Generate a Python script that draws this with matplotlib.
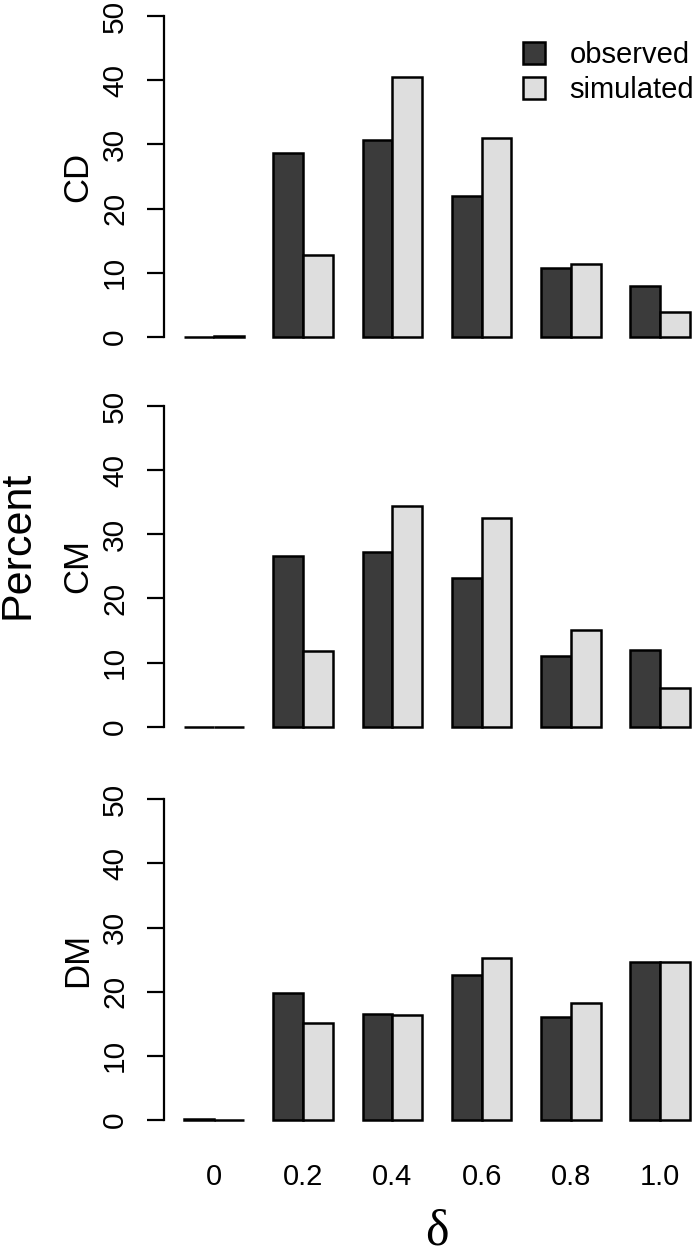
import numpy as np
import matplotlib
matplotlib.use("Agg")
import matplotlib.pyplot as plt
import matplotlib.transforms as mtransforms

# values (percent)
deltas = ["0", "0.2", "0.4", "0.6", "0.8", "1.0"]
panels = ["CD", "CM", "DM"]
cd_observed = [0.0, 28.6, 30.7, 21.9, 10.7, 7.9]
cd_simulated = [0.15, 12.7, 40.5, 31.0, 11.4, 3.9]
cm_observed = [0.0, 26.6, 27.3, 23.2, 11.0, 11.9]
cm_simulated = [0.0, 11.8, 34.4, 32.6, 15.1, 6.1]
dm_observed = [0.1, 19.8, 16.6, 22.6, 16.1, 24.7]
dm_simulated = [0.0, 15.2, 16.4, 25.2, 18.2, 24.6]

observed = [cd_observed, cm_observed, dm_observed]
simulated = [cd_simulated, cm_simulated, dm_simulated]

dark = "#3b3b3b"
light = "#dedede"

plt.rcParams["font.family"] = ["Liberation Sans", "DejaVu Sans"]

W, H = 697, 1256
fig = plt.figure(figsize=(W / 100, H / 100), dpi=100)

# pixel rows of the 0 and 50 gridlines in each panel
zero_px = [337.0, 726.7, 1120.0]
fifty_px = [16.0, 406.0, 799.3]
left_px = 163.8
xlo, xhi = 0.32, 0.32 + (W - left_px) / 29.76

# barplot positions like R: beside=TRUE, space=c(0,1)
grp = np.arange(len(deltas))
x_obs = 1.5 + 3 * grp
x_sim = 2.5 + 3 * grp

for k, name in enumerate(panels):
    ppu = (zero_px[k] - fifty_px[k]) / 50.0
    top = fifty_px[k] - 2 * ppu
    bot = zero_px[k] + 2 * ppu
    ax = fig.add_axes([left_px / W, 1 - bot / H, 1 - left_px / W, (bot - top) / H])
    ax.set_xlim(xlo, xhi)
    ax.set_ylim(-2, 52)

    b1 = ax.bar(x_obs, observed[k], width=1.0, color=dark, edgecolor="black",
                linewidth=1.8, label="observed")
    b2 = ax.bar(x_sim, simulated[k], width=1.0, color=light, edgecolor="black",
                linewidth=1.8, label="simulated")

    for s in ["top", "right", "bottom"]:
        ax.spines[s].set_visible(False)
    ax.spines["left"].set_bounds(0, 50)
    ax.spines["left"].set_linewidth(1.6)
    ax.set_yticks([0, 10, 20, 30, 40, 50])
    ax.tick_params(axis="y", length=12, width=1.6, labelsize=21.5, pad=13)
    for lab in ax.get_yticklabels():
        lab.set_rotation(90)
        lab.set_va("center")

    if k == 2:
        ax.set_xticks((x_obs + x_sim) / 2)
        ax.set_xticklabels(deltas)
        ax.tick_params(axis="x", length=0, labelsize=21, pad=22)
    else:
        ax.set_xticks([])

    tr = mtransforms.blended_transform_factory(fig.transFigure, ax.transData)
    ax.text(78 / W, 25, name, transform=tr, rotation=90, ha="center",
            va="center", fontsize=25)

    if k == 0:
        ax.legend(handles=[b1, b2], loc="upper left", frameon=False,
                  bbox_to_anchor=(523 / W, 1 - 41 / H),
                  bbox_transform=fig.transFigure, fontsize=21,
                  handlelength=0.75, handleheight=0.75, handletextpad=0.85,
                  labelspacing=0.25, borderpad=0, borderaxespad=0)

fig.text(18 / W, 1 - 545 / H, "Percent", rotation=90, ha="center",
         va="center", fontsize=31)
fig.text(437 / W, 1 - 1232 / H, "δ", ha="center", va="center",
         fontsize=36, family=["Liberation Serif", "DejaVu Serif"])

fig.savefig("out.png", dpi=100)
